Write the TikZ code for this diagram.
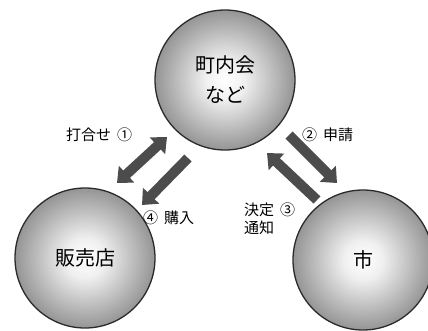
\documentclass[tikz,border=0pt]{standalone}
\usepackage{fontspec}
\setmainfont{Noto Sans CJK JP}
\usetikzlibrary{arrows.meta}
\definecolor{arrowgray}{HTML}{4C4C4C}
\definecolor{edgegray}{HTML}{959595}
\definecolor{rimgray}{HTML}{2A2A2A}
\pgfdeclareradialshading{ballshade}{\pgfpoint{0bp}{0bp}}{color(0bp)=(white); color(7bp)=(white!94!black); color(25bp)=(edgegray); color(50bp)=(edgegray)}
\tikzset{
  party/.style={circle, minimum size=140bp, inner sep=0pt, shading=ballshade, draw=rimgray, line width=1.3bp, font=\fontsize{20bp}{30bp}\selectfont, align=center},
  lbl/.style={inner sep=0pt, font=\fontsize{15bp}{18bp}\selectfont, align=left},
  barrow/.style={draw=arrowgray, line width=10bp},
  tipA/.tip={Triangle[length=13bp,width=22bp]}
}
\begin{document}
\begin{tikzpicture}[x=1bp,y=-1bp]
\useasboundingbox (0,0) rectangle (428,331);
\node[party] (town) at (225,80) {町内会\\など};
\node[party] (shop) at (85,258) {販売店};
\node[party] (city) at (363,260) {市};
\coordinate (a1s) at (117,183);
\coordinate (a1e) at (167,137);
\coordinate (a4s) at (188,158);
\coordinate (a4e) at (142,205);
\coordinate (a2s) at (289,135);
\coordinate (a2e) at (337,183);
\coordinate (a3s) at (317,200);
\coordinate (a3e) at (267,153);
\draw[barrow, tipA-tipA] (a1s) -- (a1e);
\draw[barrow, -tipA] (a4s) -- (a4e);
\draw[barrow, -tipA] (a2s) -- (a2e);
\draw[barrow, -tipA] (a3s) -- (a3e);
\node[lbl, anchor=west] (l1) at (66,135) {打合せ\hspace{6bp}①};
\node[lbl, anchor=west] (l2) at (302,135) {②\hspace{6bp}申請};
\node[lbl, anchor=west] (l4) at (143,218) {④\hspace{6bp}購入};
\node[lbl, anchor=north west] (l3) at (244,203) {決定\hspace{6bp}③\\通知};
\end{tikzpicture}
\end{document}
